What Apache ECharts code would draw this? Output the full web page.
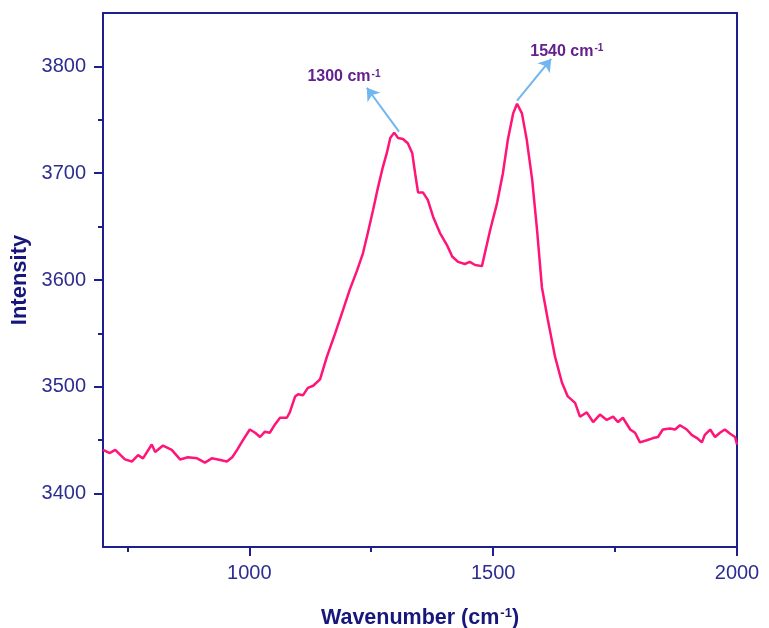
<!DOCTYPE html>
<html>
<head>
<meta charset="utf-8">
<script src="https://cdn.jsdelivr.net/npm/echarts@6/dist/echarts.min.js"></script>
<style>
  html, body { margin: 0; padding: 0; background: #fff; }
  #chart { width: 769px; height: 628px; }
</style>
</head>
<body>
<div id="chart"></div>
<script>
// Raman spectrum
const wavenumber = [
  700, 714, 725, 745, 759, 772, 782, 800, 807, 823,
  841, 858, 874, 893, 909, 923, 936, 954, 965, 975,
  987, 1001, 1012, 1022, 1032, 1042, 1053, 1063, 1077, 1083,
  1094, 1100, 1110, 1120, 1131, 1145, 1159, 1176, 1190, 1206,
  1221, 1233, 1243, 1254, 1264, 1274, 1282, 1289, 1297, 1305,
  1315, 1325, 1334, 1340, 1346, 1356, 1366, 1377, 1391, 1405,
  1416, 1428, 1442, 1452, 1463, 1477, 1483, 1494, 1508, 1520,
  1530, 1541, 1549, 1559, 1569, 1580, 1590, 1600, 1612, 1627,
  1641, 1653, 1668, 1678, 1692, 1705, 1719, 1733, 1746, 1756,
  1766, 1781, 1791, 1801, 1815, 1828, 1838, 1848, 1863, 1873,
  1883, 1897, 1907, 1918, 1928, 1934, 1945, 1955, 1965, 1975,
  1986, 1996, 2000
];
const intensity = [
  3441, 3438, 3441, 3432, 3430, 3436, 3433, 3446, 3439, 3445,
  3441, 3432, 3434, 3433, 3429, 3433, 3432, 3430, 3434, 3441,
  3450, 3460, 3457, 3453, 3458, 3457, 3465, 3471, 3471, 3476,
  3491, 3493, 3492, 3499, 3501, 3507, 3528, 3550, 3569, 3591,
  3609, 3625, 3644, 3666, 3687, 3706, 3719, 3733, 3738, 3733,
  3732, 3728, 3719, 3700, 3682, 3682, 3675, 3659, 3644, 3633,
  3622, 3617, 3615, 3617, 3614, 3613, 3625, 3647, 3672, 3700,
  3731, 3756, 3765, 3756, 3731, 3694, 3647, 3593, 3563, 3528,
  3504, 3491, 3485, 3472, 3476, 3467, 3474, 3469, 3472, 3467,
  3471, 3460, 3457, 3448, 3450, 3452, 3453, 3460, 3461, 3460,
  3464, 3460, 3455, 3452, 3448, 3455, 3460, 3453, 3457, 3460,
  3456, 3453, 3446
];

const xMajorTicks = [1000, 1500, 2000];
const xMinorTicks = [750, 1250, 1750];
const yMajorTicks = [3400, 3500, 3600, 3700, 3800];
const yMinorTicks = [3450, 3550, 3650, 3750];

// peak labels: [peak x, peak y, arrow tip x, arrow tip y, label x, label y, text]
const peakLabels = [
  [1307, 3739, 1241, 3780, 1194, 3790, '1300 cm'],
  [1549, 3768, 1619, 3807, 1651, 3814, '1540 cm']
];

const navy = '#1e1e8e';
const labelNavy = '#2d2d90';
const titleNavy = '#16167c';
const pink = '#ff1478';
const arrowBlue = '#72b6ef';
const purple = '#64218e';
const font = 'Liberation Sans, Arial, sans-serif';

const chart = echarts.init(document.getElementById('chart'), null, { renderer: 'canvas' });

const titleRich = {
  a: { fontSize: 21.5, fontWeight: 'bold', color: titleNavy, fontFamily: font },
  s: { fontSize: 13, fontWeight: 'bold', color: titleNavy, fontFamily: font, verticalAlign: 'top', padding: [0, 0, 0, 1] }
};
const plain = v => String(v);

const option = {
  animation: false,
  backgroundColor: '#fff',
  grid: {
    left: 103, right: 32, top: 13, bottom: 81,
    outerBoundsMode: 'none',
    containLabel: false,
    show: true, borderColor: navy, borderWidth: 2
  },
  xAxis: [
    {
      type: 'value', min: 700, max: 2000,
      name: '{a|Wavenumber (cm}{s|-1}{a|)}',
      nameLocation: 'middle', nameGap: 60,
      nameTextStyle: { rich: titleRich },
      axisLine: { lineStyle: { color: navy, width: 2 } },
      axisTick: { customValues: xMajorTicks, length: 9, lineStyle: { color: navy, width: 2 } },
      axisLabel: { customValues: xMajorTicks, formatter: plain, color: labelNavy, fontSize: 20, fontFamily: font, margin: 16 },
      splitLine: { show: false }
    },
    {
      type: 'value', min: 700, max: 2000, position: 'bottom',
      axisLine: { show: false },
      axisTick: { customValues: xMinorTicks, length: 5, lineStyle: { color: navy, width: 2 } },
      axisLabel: { show: false },
      splitLine: { show: false }
    }
  ],
  yAxis: [
    {
      type: 'value', min: 3350, max: 3850,
      name: 'Intensity',
      nameLocation: 'middle', nameGap: 72,
      nameTextStyle: { fontSize: 22, fontWeight: 'bold', color: titleNavy, fontFamily: font },
      axisLine: { lineStyle: { color: navy, width: 2 } },
      axisTick: { customValues: yMajorTicks, length: 9, lineStyle: { color: navy, width: 2 } },
      axisLabel: { customValues: yMajorTicks, formatter: plain, color: labelNavy, fontSize: 20, fontFamily: font, margin: 17 },
      splitLine: { show: false }
    },
    {
      type: 'value', min: 3350, max: 3850, position: 'left',
      axisLine: { show: false },
      axisTick: { customValues: yMinorTicks, length: 5, lineStyle: { color: navy, width: 2 } },
      axisLabel: { show: false },
      splitLine: { show: false }
    }
  ],
  series: [
    {
      type: 'line',
      xAxisIndex: 0, yAxisIndex: 0,
      data: wavenumber.map((w, i) => [w, intensity[i]]),
      showSymbol: false,
      lineStyle: { color: pink, width: 2.5 },
      itemStyle: { color: pink },
      z: 3,
      markLine: {
        silent: true,
        symbol: ['none', 'arrow'],
        symbolSize: 12,
        label: { show: false },
        lineStyle: { color: arrowBlue, width: 2, type: 'solid' },
        data: peakLabels.map(p => [{ coord: [p[0], p[1]] }, { coord: [p[2], p[3]] }])
      },
      markPoint: {
        silent: true,
        symbol: 'circle',
        symbolSize: 1,
        itemStyle: { color: 'rgba(0,0,0,0)' },
        label: {
          show: true,
          position: 'inside',
          rich: {
            a: { fontSize: 16, fontWeight: 'bold', color: purple, fontFamily: font },
            s: { fontSize: 10, fontWeight: 'bold', color: purple, fontFamily: font, verticalAlign: 'top', padding: [0, 0, 0, 1] }
          }
        },
        data: peakLabels.map(p => ({
          coord: [p[4], p[5]],
          label: { formatter: '{a|' + p[6] + '}{s|-1}' }
        }))
      }
    }
  ]
};

chart.setOption(option);
</script>
</body>
</html>
